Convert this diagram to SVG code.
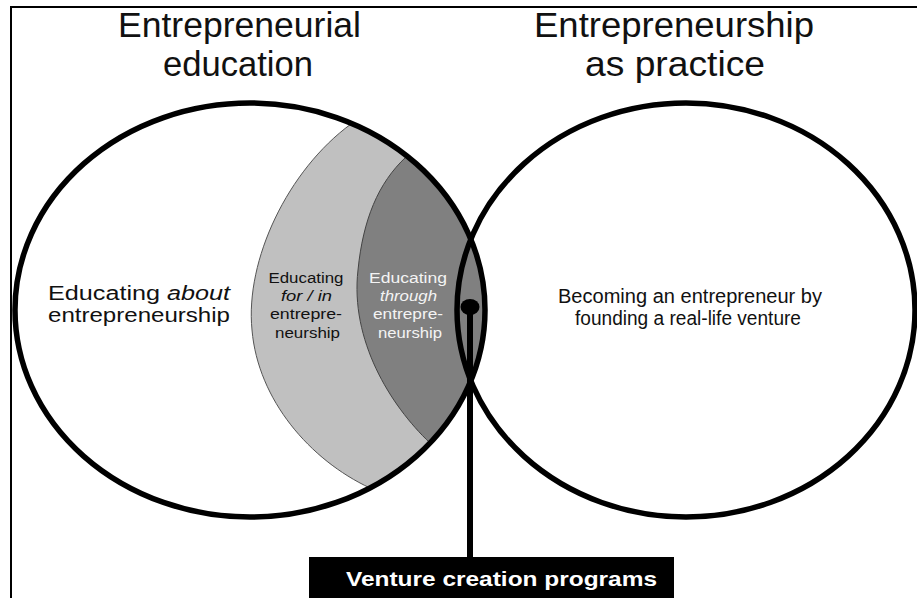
<svg xmlns="http://www.w3.org/2000/svg" width="917" height="598" viewBox="0 0 917 598">
<style>
.t{font-family:"Liberation Sans",Arial,sans-serif;fill:#111;text-anchor:middle}
.title{font-size:35px}
.body{font-size:20px}
.small{font-size:14px}
.inv{fill:#f4f4f4}
.ring{fill:none;stroke:#000;stroke-width:5.5}
.light{fill:#c0c0c0;stroke:#555;stroke-width:1}
.dark{fill:#808080;stroke:#444;stroke-width:1}
</style>
<rect x="0" y="0" width="917" height="598" fill="#fff"/>
<path d="M11,598 V7 H917" fill="none" stroke="#000" stroke-width="2"/>

<g id="title-left">
<text class="t title" x="239.5" y="37" textLength="243" lengthAdjust="spacingAndGlyphs">Entrepreneurial</text>
<text class="t title" x="238" y="76" textLength="150" lengthAdjust="spacingAndGlyphs">education</text>
</g>
<g id="title-right">
<text class="t title" x="674" y="37" textLength="280" lengthAdjust="spacingAndGlyphs">Entrepreneurship</text>
<text class="t title" x="675" y="76" textLength="180" lengthAdjust="spacingAndGlyphs">as practice</text>
</g>

<g id="band-for-in">
<path class="light" d="M351,124 A235 207 0 0 1 370,488 C310,460 258,400 252,330 C245,260 288,170 351,124 Z"/>
<text class="t small" x="306" y="283" textLength="75" lengthAdjust="spacingAndGlyphs">Educating</text>
<text class="t small" x="306.5" y="301" textLength="51" lengthAdjust="spacingAndGlyphs" font-style="italic">for / in</text>
<text class="t small" x="306" y="319" textLength="72" lengthAdjust="spacingAndGlyphs">entrepre-</text>
<text class="t small" x="307.5" y="338" textLength="65" lengthAdjust="spacingAndGlyphs">neurship</text>
</g>

<g id="band-through">
<path class="dark" d="M406,157 A235 207 0 0 1 430,443 C390,405 350,340 358,270 C363,220 378,183 406,157 Z"/>
<text class="t small inv" x="408" y="283" textLength="78" lengthAdjust="spacingAndGlyphs">Educating</text>
<text class="t small inv" x="408.5" y="301" textLength="57" lengthAdjust="spacingAndGlyphs" font-style="italic">through</text>
<text class="t small inv" x="408" y="319" textLength="70" lengthAdjust="spacingAndGlyphs">entrepre-</text>
<text class="t small inv" x="410" y="338" textLength="64" lengthAdjust="spacingAndGlyphs">neurship</text>
</g>

<g id="left-circle">
<ellipse class="ring" cx="250" cy="310" rx="235" ry="207"/>
<text class="t body" x="139" y="300" textLength="182" lengthAdjust="spacingAndGlyphs">Educating <tspan font-style="italic">about</tspan></text>
<text class="t body" x="139" y="322" textLength="182" lengthAdjust="spacingAndGlyphs">entrepreneurship</text>
</g>

<g id="right-circle">
<ellipse class="ring" cx="686" cy="310" rx="229" ry="207"/>
<text class="t body" x="690" y="303" textLength="264" lengthAdjust="spacingAndGlyphs">Becoming an entrepreneur by</text>
<text class="t body" x="688" y="325" textLength="226" lengthAdjust="spacingAndGlyphs">founding a real-life venture</text>
</g>

<g id="connectors">
<line x1="470" y1="307" x2="470" y2="558" stroke="#000" stroke-width="6"/>
<ellipse cx="470" cy="307" rx="9.5" ry="8" fill="#000"/>
</g>

<g id="vcp-box">
<rect x="309" y="557" width="365" height="41" fill="#000"/>
<text class="t" x="501.5" y="586" font-size="21" font-weight="bold" style="fill:#fff" textLength="311" lengthAdjust="spacingAndGlyphs">Venture creation programs</text>
</g>
</svg>
